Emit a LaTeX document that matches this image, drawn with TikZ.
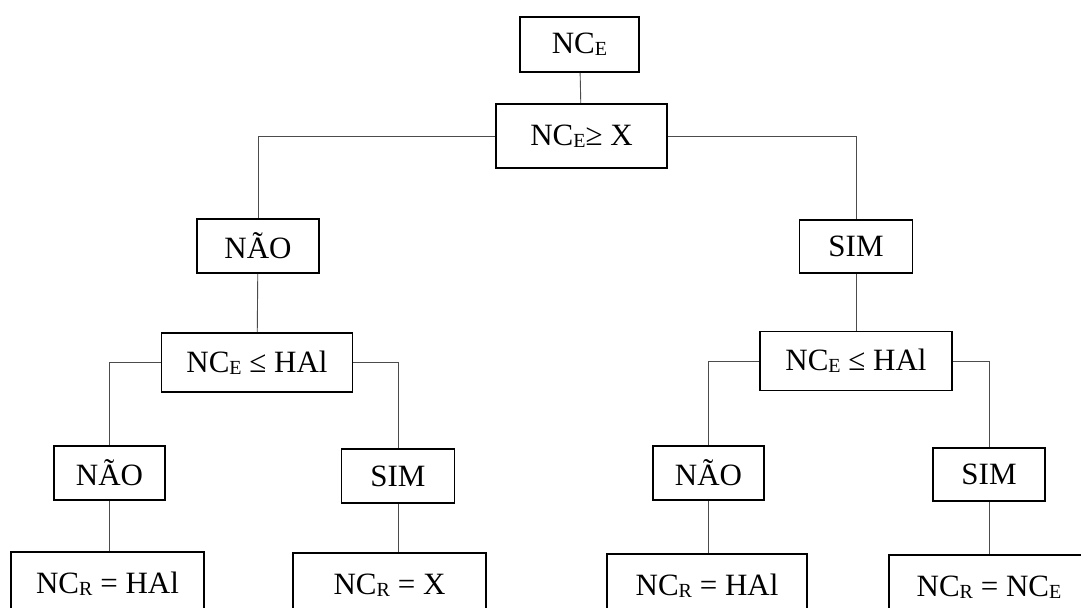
\documentclass[tikz,border=0pt]{standalone}
\usepackage{fontspec}
\setmainfont{Liberation Serif}
\usepackage{tikz}
\newcommand{\indice}[1]{\raisebox{-1.2pt}{\fontsize{10}{12}\selectfont #1}}

\begin{document}
\begin{tikzpicture}[x=0.5pt,y=-0.5pt,
  caixa/.style={draw,line width=0.8pt,inner sep=0pt,font=\fontsize{15.5}{18}\selectfont},
  liga/.style={draw,black!70,line width=0.45pt}]
  \clip (0,0) rectangle (1081,607);
  % nivel 1
  \node[caixa,minimum width=59.5pt,minimum height=27.5pt] (topo) at (579.5,44.5) {NC\indice{E}};
  \node[caixa,minimum width=85.5pt,minimum height=32pt] (teste1) at (581.5,136) {NC\indice{E}≥ X};
  % nivel 2
  \node[caixa,minimum width=61pt,minimum height=27pt] (nao1) at (258,246) {NÃO};
  \node[caixa,minimum width=56.5pt,minimum height=26.5pt] (sim1) at (856,246.5) {SIM};
  \node[caixa,minimum width=95.5pt,minimum height=29.5pt] (teste2) at (257,362.5) {NC\indice{E} ≤ HAl};
  \node[caixa,minimum width=96pt,minimum height=29.5pt] (teste3) at (856,361) {NC\indice{E} ≤ HAl};
  % nivel 3
  \node[caixa,minimum width=55.5pt,minimum height=27pt] (nao2) at (109.5,473) {NÃO};
  \node[caixa,minimum width=56.5pt,minimum height=27pt] (sim2) at (398,476) {SIM};
  \node[caixa,minimum width=55.5pt,minimum height=27pt] (nao3) at (708.5,473) {NÃO};
  \node[caixa,minimum width=56pt,minimum height=26.5pt] (sim3) at (989,474.5) {SIM};
  % resultados
  \node[caixa,minimum width=96.5pt,minimum height=32pt] (res1) at (107.5,584) {NC\indice{R} = HAl};
  \node[caixa,minimum width=96.5pt,minimum height=32pt] (res2) at (389.5,585) {NC\indice{R} = X};
  \node[caixa,minimum width=100pt,minimum height=32pt] (res3) at (707,586) {NC\indice{R} = HAl};
  \node[caixa,minimum width=100pt,minimum height=32pt] (res4) at (989,587) {NC\indice{R} = NC\indice{E}};
  % ligacoes
  \draw[liga] (topo) -- (teste1);
  \draw[liga] (teste1.west) -| (nao1.north);
  \draw[liga] (teste1.east) -| (sim1.north);
  \draw[liga] (nao1) -- (teste2);
  \draw[liga] (sim1) -- (teste3);
  \draw[liga] (teste2.west) -| (nao2.north);
  \draw[liga] (teste2.east) -| (sim2.north);
  \draw[liga] (teste3.west) -| (nao3.north);
  \draw[liga] (teste3.east) -| (sim3.north);
  \draw[liga] (nao2.south) -- (nao2.south |- res1.north);
  \draw[liga] (sim2.south) -- (sim2.south |- res2.north);
  \draw[liga] (nao3.south) -- (nao3.south |- res3.north);
  \draw[liga] (sim3.south) -- (sim3.south |- res4.north);
\end{tikzpicture}
\end{document}
